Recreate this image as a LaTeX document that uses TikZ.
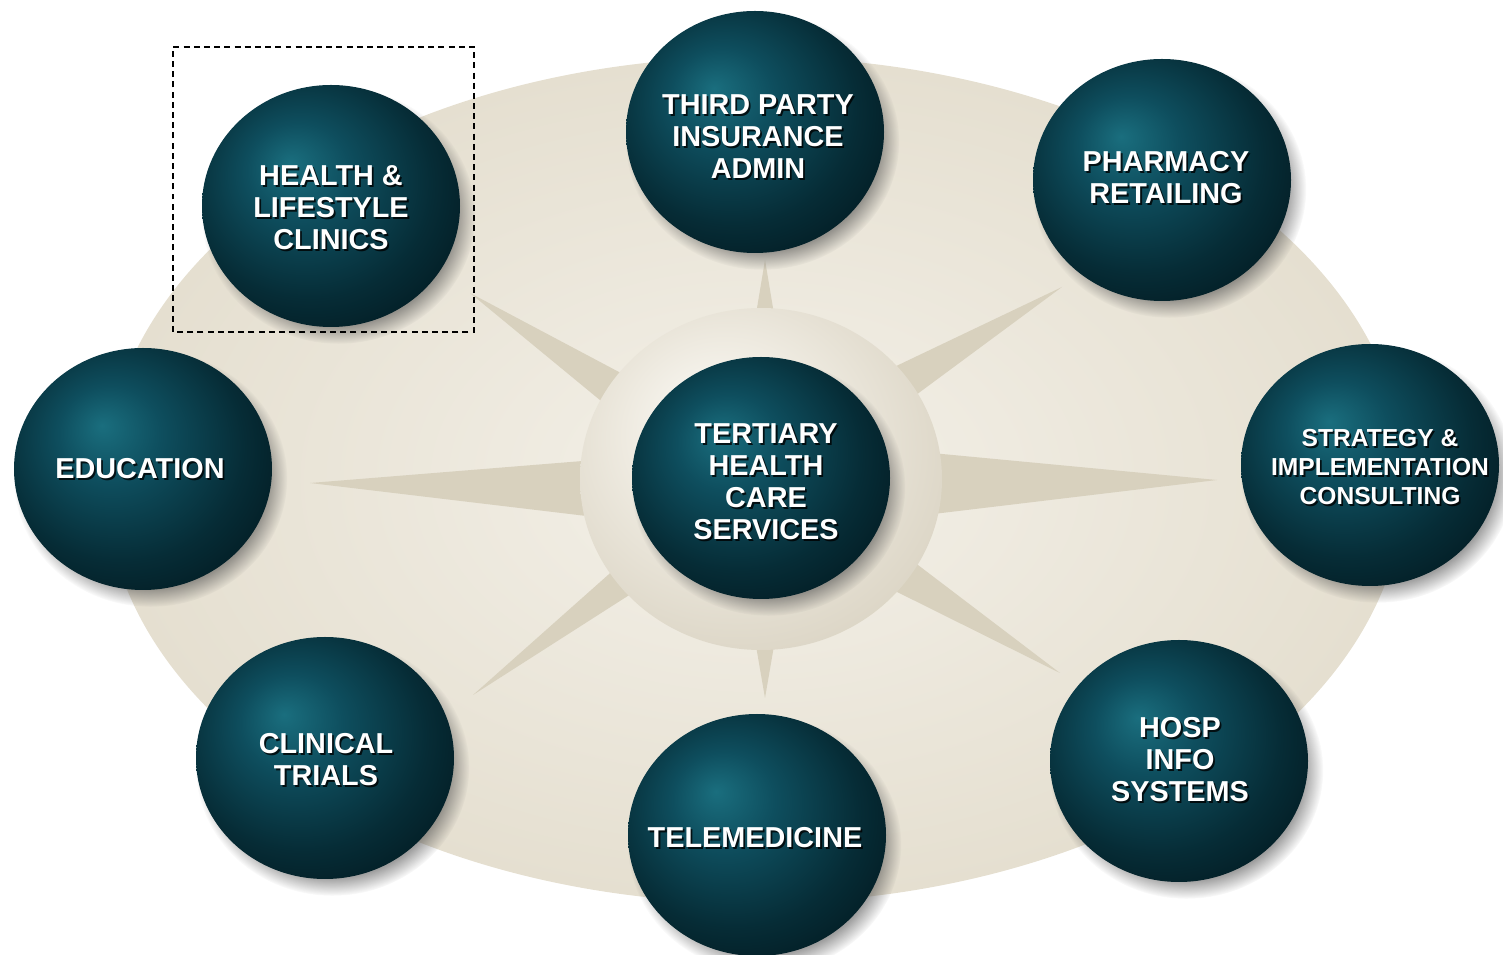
\documentclass[tikz,border=0pt]{standalone}
\usepackage{fontspec}
\setsansfont{Liberation Sans}
\usepackage{tikz}
\usetikzlibrary{shapes.geometric,shadows,fadings}

\definecolor{tealhi}{RGB}{26,110,126}
\definecolor{tealmid}{RGB}{14,78,94}
\definecolor{tealdark}{RGB}{6,44,54}
\definecolor{tealrim}{RGB}{2,22,28}
\definecolor{sandlight}{RGB}{244,241,233}
\definecolor{sand}{RGB}{229,223,208}
\definecolor{sandray}{RGB}{216,209,190}
\definecolor{ringhi}{RGB}{252,251,247}
\definecolor{ringmid}{RGB}{238,234,224}
\definecolor{ringlo}{RGB}{216,209,192}

\pgfdeclareradialshading{tealball}{\pgfqpoint{-8bp}{9bp}}{color(0bp)=(tealhi); color(10bp)=(tealmid); color(24bp)=(tealdark); color(36bp)=(tealrim); color(50bp)=(tealrim)}
\pgfdeclareradialshading{ringshade}{\pgfqpoint{-7bp}{9bp}}{color(0bp)=(ringhi); color(14bp)=(ringmid); color(34bp)=(ringlo); color(50bp)=(ringlo)}

\tikzset{
 ball/.style={shape=ellipse, minimum width=2.58cm, minimum height=2.42cm, inner sep=0pt,
   shading=tealball,
   circular drop shadow={shadow xshift=0.07cm, shadow yshift=-0.09cm, shadow scale=1.06, opacity=.55, fill=black!70}},
 balltext/.style={text=white, align=center, inner sep=0pt,
   font=\sffamily\bfseries\fontsize{8.2pt}{9.1pt}\selectfont},
 balltextshadow/.style={balltext, text=black, text opacity=.8},
 smalltext/.style={font=\sffamily\bfseries\fontsize{7pt}{8.2pt}\selectfont},
 ray/.style={fill=sandray},
 pickbox/.style={draw=black, line width=0.5pt, dash pattern=on 1.7pt off 1.2pt}
}

% white label with a dark shadow under it
\newcommand{\balllabel}[4][]{%
 \path (#2) ++(#3) ++(0.018,-0.018) node[balltextshadow,#1,name=#2shadowtext] {#4};
 \path (#2) ++(#3) node[balltext,#1,name=#2text] {#4};}

\begin{document}
\begin{tikzpicture}
\useasboundingbox (0,0) rectangle (15.03,9.55);

\shade[inner color=sandlight, outer color=sand] (7.55,4.75) ellipse [x radius=6.50, y radius=4.23];

% rays
\fill[ray] (3.10,4.72) -- (6.20,4.97) -- (6.20,4.35) -- cycle;
\fill[ray] (12.17,4.75) -- (9.00,5.05) -- (9.00,4.37) -- cycle;
\fill[ray] (10.62,6.68) -- (8.69,5.76) -- (8.93,5.43) -- cycle;
\fill[ray] (10.60,2.82) -- (8.93,4.09) -- (8.69,3.77) -- cycle;
\fill[ray] (4.70,6.62) -- (6.29,5.31) -- (6.51,5.66) -- cycle;
\fill[ray] (4.73,2.60) -- (6.35,4.04) -- (6.59,3.79) -- cycle;
\fill[ray] (7.65,6.95) -- (7.55,6.35) -- (7.75,6.35) -- cycle;
\fill[ray] (7.65,2.57) -- (7.55,3.15) -- (7.75,3.15) -- cycle;

\shade[shading=ringshade] (7.61,4.76) ellipse [x radius=1.81, y radius=1.71];

\path (7.61,4.77) node[ball,name=hub] {};
\balllabel{hub}{0.05,-0.04}{TERTIARY\\HEALTH\\CARE\\SERVICES}

\path (7.55,8.23) node[ball,name=party] {};
\path (11.62,7.75) node[ball,name=pharmacy] {};
\path (3.31,7.49) node[ball,name=lifestyle] {};
\path (1.43,4.86) node[ball,name=education] {};
\path (13.70,4.90) node[ball,name=strategy] {};
\path (3.25,1.97) node[ball,name=trials] {};
\path (7.57,1.20) node[ball,name=telemed] {};
\path (11.79,1.94) node[ball,name=hospinfo] {};

\balllabel{party}{0.03,-0.05}{THIRD PARTY\\INSURANCE\\ADMIN}
\balllabel{pharmacy}{0.04,0.02}{PHARMACY\\RETAILING}
\balllabel{lifestyle}{0,-0.02}{HEALTH \&\\LIFESTYLE\\CLINICS}
\balllabel{education}{-0.03,0}{EDUCATION}
\balllabel[smalltext]{strategy}{0.10,-0.02}{STRATEGY \&\\IMPLEMENTATION\\CONSULTING}
\balllabel{trials}{0.01,-0.02}{CLINICAL\\TRIALS}
\balllabel{telemed}{-0.02,-0.03}{TELEMEDICINE}
\balllabel{hospinfo}{0.01,0.01}{HOSP\\INFO\\SYSTEMS}

\draw[pickbox] (1.73,6.23) rectangle (4.74,9.08);
\end{tikzpicture}
\end{document}
